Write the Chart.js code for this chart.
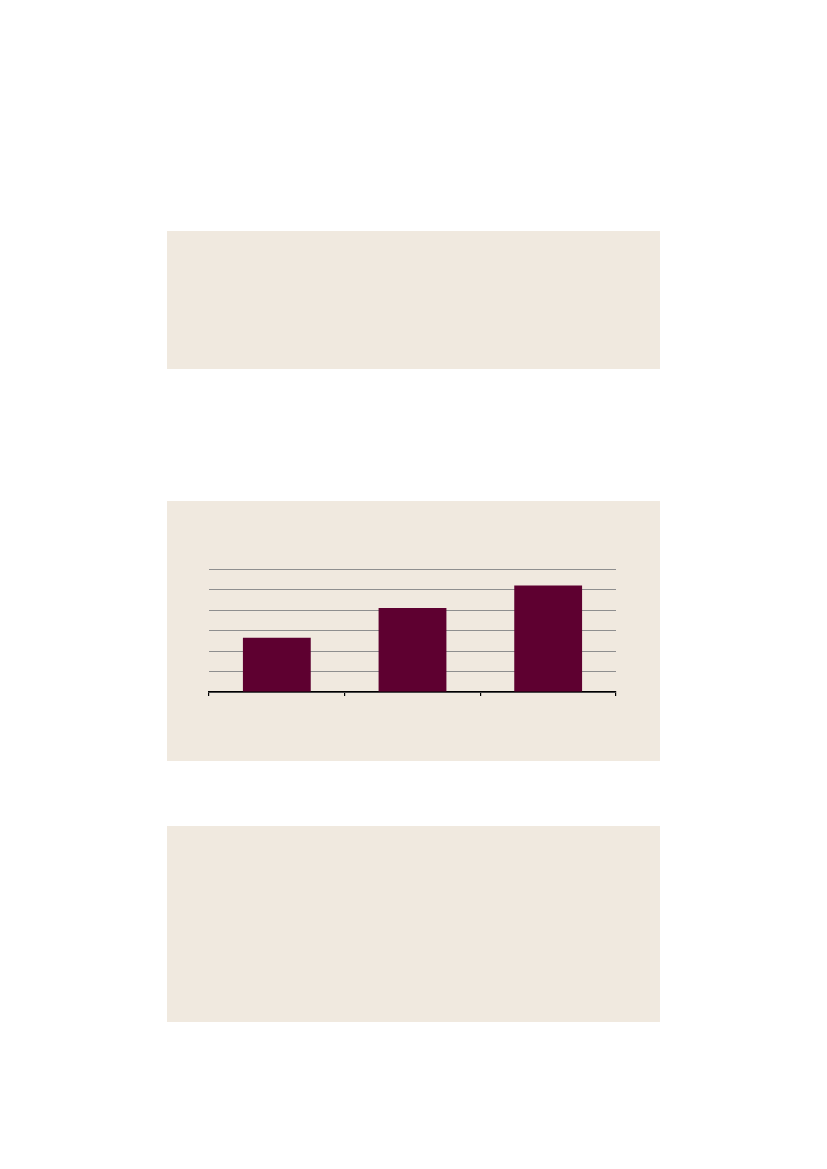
<!DOCTYPE html>
<html>
<head>
<meta charset="utf-8">
<script src="https://cdn.jsdelivr.net/npm/chart.js@4"></script>
<style>
    html, body { margin: 0; padding: 0; background: #ffffff; }
    body { width: 827px; height: 1169px; position: relative; overflow: hidden; }
    .panel { position: absolute; left: 167px; width: 493px; background: #f0e9df; }
    #panelTop { top: 231px; height: 138px; }
    #panelChart { top: 501px; height: 260px; }
    #panelBottom { top: 826px; height: 196px; }
    #chartWrap { position: absolute; left: 0; top: 0; width: 493px; height: 260px; }
</style>
</head>
<body>
<div class="panel" id="panelTop"></div>
<div class="panel" id="panelChart">
    <div id="chartWrap"><canvas id="barChart"></canvas></div>
</div>
<div class="panel" id="panelBottom"></div>

<script>
// Data (no labels shown in the reference)
const categories = ['', '', ''];
const values = [2.65, 4.1, 5.2];
const yTicks = [0, 1, 2, 3, 4, 5, 6];

const barColor = '#5e0030';

const ctx = document.getElementById('barChart').getContext('2d');
const barChart = new Chart(ctx, {
    type: 'bar',
    data: {
        labels: categories,
        datasets: [{
            data: values,
            backgroundColor: barColor,
            borderWidth: 0,
            barPercentage: 0.5,
            categoryPercentage: 1.0
        }]
    },
    options: {
        responsive: true,
        maintainAspectRatio: false,
        animation: false,
        layout: {
            padding: { left: 42, right: 44, top: 68, bottom: 65 }
        },
        plugins: {
            legend: { display: false },
            tooltip: { enabled: false }
        },
        scales: {
            x: {
                offset: true,
                ticks: { display: false },
                grid: {
                    offset: true,
                    drawOnChartArea: false,
                    drawTicks: true,
                    tickLength: 4,
                    color: '#000000',
                    lineWidth: 1.2
                },
                border: { display: true, color: '#000000', width: 1.5 }
            },
            y: {
                min: yTicks[0],
                max: yTicks[yTicks.length - 1],
                ticks: { display: false, stepSize: 1 },
                grid: {
                    drawTicks: false,
                    color: '#8f8f8f',
                    lineWidth: 1
                },
                border: { display: false }
            }
        }
    }
});
</script>
</body>
</html>
